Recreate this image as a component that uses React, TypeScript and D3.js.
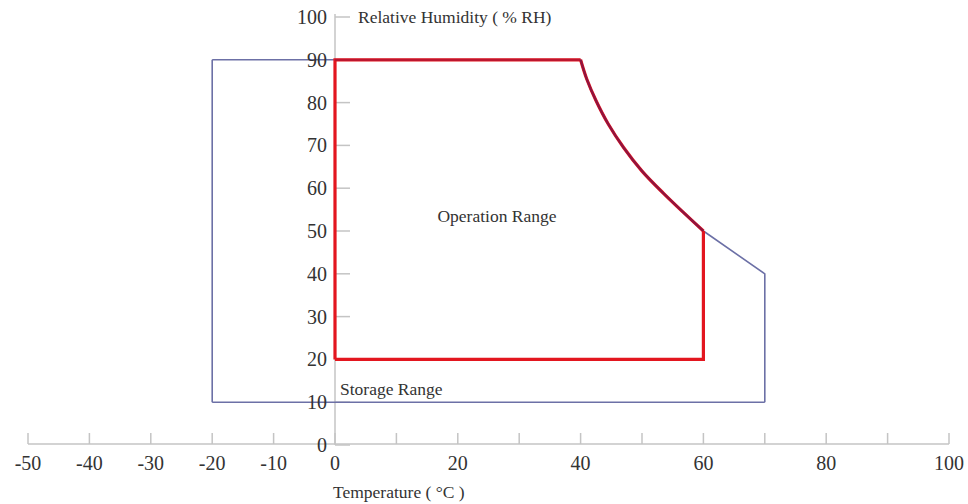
import React from 'react';
import * as d3 from 'd3';

// x axis: temperature (°C), y axis: relative humidity (%RH)
const xTicks = [-50, -40, -30, -20, -10, 0, 10, 20, 30, 40, 50, 60, 70, 80, 90, 100];
const xTickLabels = [-50, -40, -30, -20, -10, 0, 20, 40, 60, 80, 100];
const yTicks = [0, 10, 20, 30, 40, 50, 60, 70, 80, 90, 100];

// the shared upper-right boundary curve (40°C/90% down to 60°C/50%)
const curveT = [40, 41, 42.5, 44.5, 47, 50, 53.5, 57, 60];
const curveRH = [90, 85.5, 80.5, 75, 69.5, 64, 58.8, 54, 50];

// storage range corners
const storageLeftT = [-20, -20];
const storageLeftRH = [10, 90];
const storageRightT = [70, 70];
const storageRightRH = [40, 10];

// operation range corners
const opLeftT = [0, 0];
const opLeftRH = [20, 90];
const opRightT = [60];
const opRightRH = [20];

type Pt = [number, number];

export default function App() {
  const width = 968;
  const height = 504;

  const x = d3.scaleLinear().domain([-50, 100]).range([28, 949]);
  const y = d3.scaleLinear().domain([0, 100]).range([445, 17]);

  const curvePts: Pt[] = curveT.map((t, i) => [t, curveRH[i]]);
  const line = d3.line<Pt>().x(d => x(d[0])).y(d => y(d[1]));
  const smooth = d3.line<Pt>().x(d => x(d[0])).y(d => y(d[1])).curve(d3.curveCatmullRom.alpha(0.5));

  const curvePath = smooth(curvePts) || '';
  const toPts = (ts: number[], rs: number[]): Pt[] => ts.map((t, i) => [t, rs[i]]);
  const last = curveT.length - 1;

  const storageLeft = line(toPts(storageLeftT, storageLeftRH)) || '';
  const storageRight = line([[curveT[last], curveRH[last]], ...toPts(storageRightT, storageRightRH)]) || '';
  const storageBottom = line([[storageRightT[1], storageRightRH[1]], [storageLeftT[0], storageLeftRH[0]]]) || '';
  const storageTop = line([[storageLeftT[1], storageLeftRH[1]], [curveT[0], curveRH[0]]]) || '';

  const opLeft = line([
    [curveT[0], curveRH[0]],
    ...toPts(opLeftT, opLeftRH).reverse(),
  ]) || '';
  const opBottom = line([
    [opLeftT[0], opLeftRH[0]],
    [opRightT[0], opRightRH[0]],
    [curveT[last], curveRH[last]],
  ]) || '';

  const textColor = '#333';
  const axisColor = '#c4c4c4';
  const blue = '#6c70a6';
  const red = '#e3161f';
  const maroon = '#8e1440';
  const font = '"Liberation Serif", "DejaVu Serif", serif';

  return (
    <svg width={width} height={height} style={{ position: 'absolute', left: 0, top: 0, background: '#fff' }} fontFamily={font}>
      {/* axes */}
      <line x1={x(-50)} x2={x(100)} y1={y(0) - 1} y2={y(0) - 1} stroke={axisColor} strokeWidth={1.5} />
      {xTicks.map(t => (
        <line key={'xt' + t} x1={x(t)} x2={x(t)} y1={y(0) - 1} y2={y(0) - 12} stroke={axisColor} strokeWidth={1.5} />
      ))}
      <line x1={x(0)} x2={x(0)} y1={y(100) - 3} y2={y(0)} stroke={axisColor} strokeWidth={1.5} />
      {yTicks.map(v => (
        <line key={'yt' + v} x1={x(0)} x2={x(0) + 15} y1={y(v)} y2={y(v)} stroke={axisColor} strokeWidth={1.5} />
      ))}

      {/* storage range */}
      <g fill="none" stroke={blue} strokeWidth={1.6}>
        <path d={storageLeft} />
        <path d={storageTop} />
        <path d={storageRight} />
        <path d={storageBottom} />
      </g>

      {/* operation range */}
      <g fill="none" stroke={red} strokeWidth={3.2}>
        <path d={opLeft} />
        <path d={opBottom} />
        <path d={curvePath} />
      </g>
      <g fill="none" stroke={maroon} strokeWidth={2.2}>
        <path d={line([[opLeftT[1], opLeftRH[1]], [curveT[0], curveRH[0]]]) || ''} strokeOpacity={0.45} />
        <path d={curvePath} />
      </g>

      {/* tick labels */}
      {xTickLabels.map(t => (
        <text key={'xl' + t} x={x(t)} y={470} textAnchor="middle" fontSize={20} fill={textColor}>{t}</text>
      ))}
      {yTicks.map(v => (
        <text key={'yl' + v} x={x(0) - 8} y={y(v)} dy="0.35em" textAnchor="end" fontSize={20} fill={textColor}>{v}</text>
      ))}

      {/* titles */}
      <text x={358} y={y(100)} dy="0.35em" fontSize={17.5} fill={textColor}>Relative Humidity ( % RH)</text>
      <text x={x(0) - 2} y={492} dy="0.35em" fontSize={17.5} fill={textColor}>Temperature ( °C )</text>
      <text x={497} y={216} dy="0.35em" textAnchor="middle" fontSize={17.5} fill={textColor}>Operation Range</text>
      <text x={340} y={389} dy="0.35em" fontSize={17.5} fill={textColor}>Storage Range</text>
    </svg>
  );
}
